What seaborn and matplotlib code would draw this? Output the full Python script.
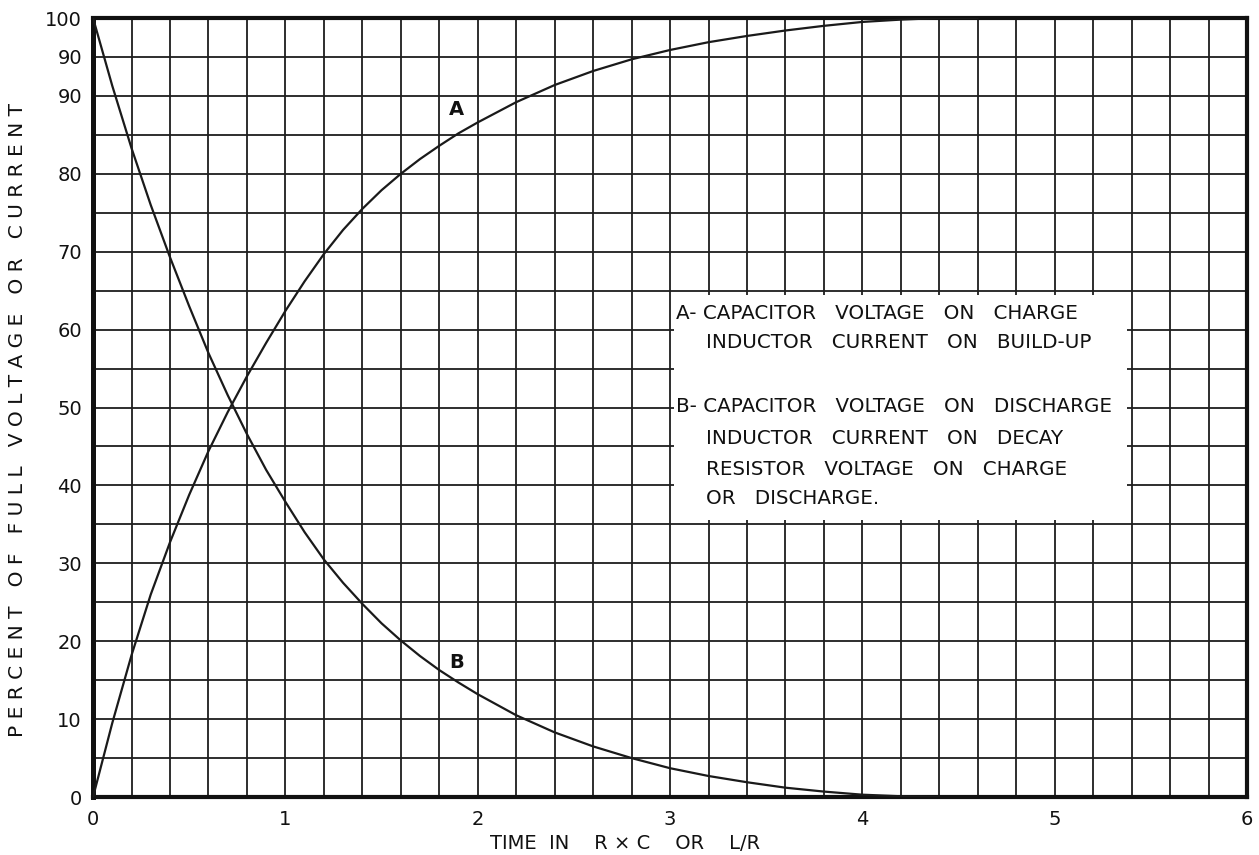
import numpy as np
import pandas as pd
import matplotlib
matplotlib.use("Agg")
import matplotlib.pyplot as plt
from matplotlib.ticker import MultipleLocator, FixedLocator, FixedFormatter
from matplotlib.patches import Rectangle
import seaborn as sns

# ---- data ----
t_a = [0, 0.1, 0.2, 0.3, 0.4, 0.5, 0.6, 0.7, 0.8, 0.9, 1.0, 1.1, 1.2, 1.3, 1.4, 1.5, 1.6,
       1.7, 1.8, 1.9, 2.0, 2.2, 2.4, 2.6, 2.8, 3.0, 3.2, 3.4, 3.6, 3.8, 4.0, 4.2, 4.4, 4.6]
curve_a = [0, 9.5, 18.2, 26.0, 32.7, 38.8, 44.4, 49.4, 54.0, 58.3, 62.4, 66.2, 69.7, 72.8,
           75.5, 77.9, 80.0, 81.9, 83.6, 85.2, 86.6, 89.2, 91.4, 93.2, 94.7, 95.9, 96.9,
           97.7, 98.4, 99.0, 99.5, 99.8, 100, 100]

t_b = [0, 0.1, 0.2, 0.3, 0.4, 0.5, 0.6, 0.7, 0.8, 0.9, 1.0, 1.1, 1.2, 1.3, 1.4, 1.5, 1.6,
       1.7, 1.8, 1.9, 2.0, 2.2, 2.4, 2.6, 2.8, 3.0, 3.2, 3.4, 3.6, 3.8, 4.0, 4.2, 4.4]
curve_b = [100, 91.3, 83.3, 76.0, 69.3, 63.0, 57.0, 51.6, 46.6, 42.0, 37.9, 34.0, 30.5,
           27.5, 24.8, 22.3, 20.1, 18.1, 16.3, 14.7, 13.2, 10.5, 8.3, 6.5, 5.0, 3.7, 2.7,
           1.9, 1.2, 0.7, 0.3, 0.1, 0]

x_tick_values = [0, 1, 2, 3, 4, 5, 6]
x_tick_labels = ["0", "1", "2", "3", "4", "5", "6"]
y_tick_values = [0, 10, 20, 30, 40, 50, 60, 70, 80, 90, 95, 100]
y_tick_labels = ["0", "10", "20", "30", "40", "50", "60", "70", "80", "90", "90", "100"]

curve_names = ["A", "B"]
legend_lines = [
    ("A- CAPACITOR   VOLTAGE   ON   CHARGE", 0),
    ("INDUCTOR   CURRENT   ON   BUILD-UP", 1),
    ("B- CAPACITOR   VOLTAGE   ON   DISCHARGE", 0),
    ("INDUCTOR   CURRENT   ON   DECAY", 1),
    ("RESISTOR   VOLTAGE   ON   CHARGE", 1),
    ("OR   DISCHARGE.", 1),
]
x_label = "TIME  IN    R × C    OR    L/R"
y_label_words = ["PERCENT", "OF", "FULL", "VOLTAGE", "OR", "CURRENT"]

df = pd.concat([
    pd.DataFrame({"t": t_a, "v": curve_a, "curve": "A"}),
    pd.DataFrame({"t": t_b, "v": curve_b, "curve": "B"}),
])

sns.set_style("white")
plt.rcParams["font.family"] = ["DejaVu Sans"]

fig = plt.figure(figsize=(12.59, 8.55), dpi=100)
ax = fig.add_axes([0.0739, 0.0678, 0.9166, 0.9111])

sns.lineplot(data=df, x="t", y="v", hue="curve", palette=["#1a1a1a", "#1a1a1a"],
             linewidth=1.6, legend=False, ax=ax, zorder=3, sort=False, estimator=None)

ax.set_xlim(0, 6)
ax.set_ylim(0, 100)
ax.xaxis.set_major_locator(FixedLocator(x_tick_values))
ax.xaxis.set_major_formatter(FixedFormatter(x_tick_labels))
ax.yaxis.set_major_locator(FixedLocator(y_tick_values))
ax.yaxis.set_major_formatter(FixedFormatter(y_tick_labels))
ax.xaxis.set_minor_locator(MultipleLocator(0.2))
ax.yaxis.set_minor_locator(MultipleLocator(5))
ax.grid(True, which="both", color="#1e1e1e", linewidth=1.3)
ax.set_axisbelow(True)
ax.tick_params(which="both", length=0)
ax.tick_params(axis="x", pad=9, labelsize=14, colors="#111")
ax.tick_params(axis="y", pad=8, labelsize=14, colors="#111")

for s in ax.spines.values():
    s.set_visible(True)
    s.set_color("#111")
    s.set_linewidth(3)
ax.spines["left"].set_linewidth(3.6)

# white legend panel with grid stubs
dx, dy = 0.022, 0.55
ax.add_patch(Rectangle((3.0 + dx, 35 + dy), 2.4 - 2 * dx, 30 - 2 * dy,
                       facecolor="white", edgecolor="none", zorder=1.5))
ys = [62.1, 58.3, 50.1, 46.0, 42.1, 38.3]
for (txt, indent), yy in zip(legend_lines, ys):
    ax.text(3.03 + 0.155 * indent, yy, txt, fontsize=14.3, va="center", ha="left",
            color="#111", zorder=4)

ax.text(1.89, 88.2, curve_names[0], fontsize=14, fontweight="bold", ha="center",
        va="center", color="#111", zorder=4)
ax.text(1.89, 17.3, curve_names[1], fontsize=14, fontweight="bold", ha="center",
        va="center", color="#111", zorder=4)

ax.set_xlabel(x_label, fontsize=14, color="#111")
ylab = "   ".join(" ".join(w) for w in y_label_words)
ax.set_ylabel(ylab, fontsize=14.5, color="#111")
ax.yaxis.set_label_coords(-0.057, 0.484)
ax.xaxis.set_label_coords(0.461, -0.047)

fig.savefig("out.png", dpi=100, facecolor="white")
